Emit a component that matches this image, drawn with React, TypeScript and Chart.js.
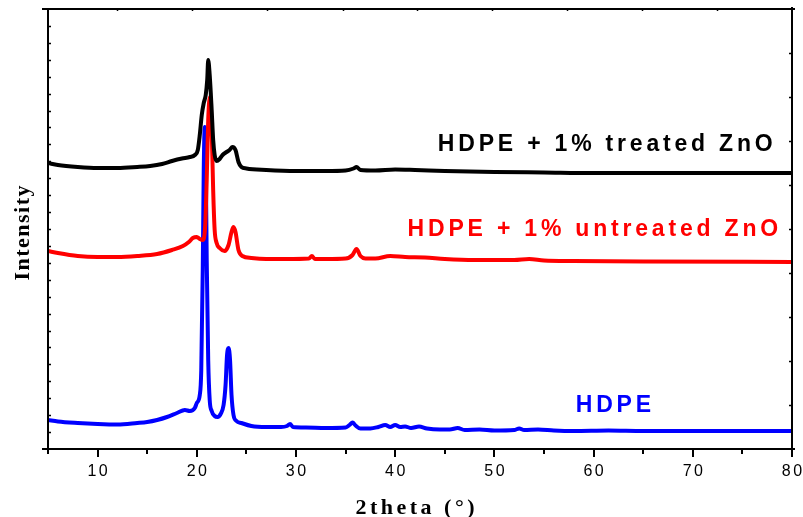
import React, { useEffect, useRef } from 'react';
import { Chart, registerables } from 'chart.js';

Chart.register(...registerables);

// ---- Data (2theta in degrees, intensity in arbitrary offset units) ----
const treatedTheta = [5, 6, 8, 10, 12, 14, 15.3, 16.5, 17.5, 18.5, 19.3, 19.8, 20.1, 20.3, 20.5, 20.7, 20.9, 21.05, 21.15, 21.3, 21.5, 21.65, 21.8, 22.0, 22.3, 22.6, 23.0, 23.3, 23.6, 23.9, 24.2, 24.5, 25, 27, 30, 33, 35, 35.8, 36.1, 36.5, 38, 40, 42, 45, 50, 55, 60, 70, 80];
const treatedIntensity = [286, 284, 282, 281, 281, 282, 283, 285, 288, 290.5, 292, 294, 299, 314, 334, 346, 354, 369, 389, 374, 339, 309, 294, 288, 290, 294, 297, 299, 302, 299, 287, 282, 280.5, 279, 278, 278, 278.5, 280.5, 282, 279, 278.5, 279.5, 279, 278, 277, 276.5, 276, 276, 276];

const untreatedTheta = [5, 6, 8, 10, 12, 14, 16, 17.5, 18.6, 19.2, 19.6, 20.0, 20.3, 20.6, 20.85, 21.0, 21.15, 21.33, 21.5, 21.65, 21.8, 22.0, 22.3, 22.8, 23.2, 23.5, 23.7, 23.9, 24.2, 24.6, 25.5, 27, 29, 31.3, 31.6, 31.9, 33, 35, 35.7, 36.1, 36.5, 37, 38, 39.5, 41, 43, 45, 48, 52, 53.5, 55, 58, 65, 80];
const untreatedIntensity = [198, 196, 193, 192, 192, 193, 195, 199, 203, 207, 211, 212, 210, 209, 224, 269, 329, 352, 319, 259, 219, 206, 201, 198, 204, 217, 222, 217, 199, 193, 191, 190, 190, 190.5, 193, 190, 190, 190.5, 194, 200, 193, 190.5, 190.5, 193, 192, 191.5, 190, 189, 189, 190, 188.5, 188, 187.5, 187];

const hdpeTheta = [5, 6, 8, 10, 12, 14, 15, 16, 17, 18, 18.8, 19.3, 19.8, 20.0, 20.3, 20.45, 20.6, 20.7, 20.8, 20.9, 21.0, 21.15, 21.3, 21.5, 21.8, 22.1, 22.4, 22.7, 22.9, 23.05, 23.2, 23.35, 23.5, 23.7, 24.0, 24.5, 25.5, 27, 28.5, 29.1, 29.4, 29.7, 31, 33, 35, 35.4, 35.7, 36.0, 36.5, 37.5, 38.3, 39.0, 39.5, 40.0, 40.5, 41.0, 41.6, 42.4, 43.2, 44.5, 45.5, 46.3, 47, 48.5, 50, 52, 52.5, 53, 54.4, 56, 58, 61.5, 65, 70, 75, 80];
const hdpeIntensity = [29, 27.5, 26, 25, 24.5, 26, 27, 29, 32, 36, 39, 38, 41, 46, 54, 79, 179, 279, 322, 289, 189, 89, 49, 38, 33, 32, 35, 44, 64, 94, 101, 89, 54, 34, 28, 26, 23, 22, 22, 23, 25, 22, 21.5, 21, 21.5, 24, 26.5, 23.5, 20.5, 20.5, 22, 24, 22, 24, 22, 22.5, 21, 22.5, 20.5, 19.5, 19.5, 21, 19, 19.5, 18.5, 19, 20.5, 19, 19.5, 18.5, 18, 18.5, 18, 18, 18, 18];

const seriesNames = ['HDPE + 1% treated ZnO', 'HDPE + 1% untreated ZnO', 'HDPE'];
const seriesColors = ['#000000', '#ff0000', '#0000ff'];

// axis
const X_MIN = 5;
const X_MAX = 80;
const Y_MIN = 0;
const Y_MAX = 440;
const xMajorTicks = [10, 20, 30, 40, 50, 60, 70, 80];
const xMinorTicks = [5, 15, 25, 35, 45, 55, 65, 75];
const topTicks = [12.0, 19.56, 27.1, 34.7, 42.2, 49.8, 57.3, 64.9, 72.4];
const LEFT_TICK_COUNT = 26;
const RIGHT_TICK_COUNT = 10;

// label anchors in data coordinates [2theta, intensity]
const labelAnchors = [
  [44.3, 298.3],
  [41.25, 213],
  [58.2, 37],
];

const toPoints = (xs: number[], ys: number[]) => xs.map((x, i) => ({ x, y: ys[i] }));

const decorPlugin = {
  id: 'decor',
  afterDraw(chart: any) {
    const ctx = chart.ctx as CanvasRenderingContext2D;
    const { left, right, top, bottom } = chart.chartArea;
    const xs = chart.scales.x;
    const ys = chart.scales.y;
    ctx.save();
    ctx.strokeStyle = '#000';
    ctx.lineWidth = 2;
    ctx.lineCap = 'butt';
    // frame
    ctx.beginPath();
    ctx.moveTo(left - 6, top);
    ctx.lineTo(right + 3, top);
    ctx.moveTo(left - 6, bottom);
    ctx.lineTo(right + 3, bottom);
    ctx.moveTo(left, top - 1);
    ctx.lineTo(left, bottom + 1);
    ctx.moveTo(right, top - 2);
    ctx.lineTo(right, bottom + 8);
    ctx.stroke();

    ctx.lineWidth = 1.5;
    ctx.beginPath();
    // left ticks (inward)
    for (let i = 1; i < LEFT_TICK_COUNT; i++) {
      const v = Y_MIN + ((Y_MAX - Y_MIN) * i) / LEFT_TICK_COUNT;
      const y = Math.round(ys.getPixelForValue(v)) + 0.5;
      ctx.moveTo(left, y);
      ctx.lineTo(left + 3, y);
    }
    // right ticks (inward)
    for (let i = 1; i < RIGHT_TICK_COUNT; i++) {
      const v = Y_MIN + ((Y_MAX - Y_MIN) * i) / RIGHT_TICK_COUNT;
      const y = Math.round(ys.getPixelForValue(v)) + 0.5;
      ctx.moveTo(right, y);
      ctx.lineTo(right - 3, y);
    }
    // top ticks
    for (const t of topTicks) {
      const x = Math.round(xs.getPixelForValue(t)) + 0.5;
      ctx.moveTo(x, top);
      ctx.lineTo(x, top + 2);
    }
    ctx.stroke();

    // bottom ticks (outward)
    ctx.lineWidth = 2;
    ctx.beginPath();
    for (const t of xMajorTicks) {
      const x = Math.round(xs.getPixelForValue(t));
      ctx.moveTo(x, bottom);
      ctx.lineTo(x, bottom + 8);
    }
    for (const t of xMinorTicks) {
      const x = Math.round(xs.getPixelForValue(t));
      ctx.moveTo(x, bottom);
      ctx.lineTo(x, bottom + 5);
    }
    ctx.stroke();

    // tick labels
    ctx.fillStyle = '#000';
    ctx.font = '16px "Liberation Sans", Arial, sans-serif';
    (ctx as any).letterSpacing = '2.5px';
    ctx.textAlign = 'left';
    ctx.textBaseline = 'alphabetic';
    for (const t of xMajorTicks) {
      const s = String(t);
      const w = ctx.measureText(s).width - 2.5;
      const x = xs.getPixelForValue(t);
      ctx.fillText(s, x - w / 2, bottom + 27);
    }

    // x axis title
    ctx.font = 'bold 22px "Liberation Serif", "Times New Roman", serif';
    (ctx as any).letterSpacing = '3.5px';
    {
      const s = '2theta (°)';
      const w = ctx.measureText(s).width - 3.5;
      const cx = 415;
      ctx.fillText(s, cx - w / 2, 514);
    }
    // y axis title
    ctx.save();
    ctx.font = 'bold 22px "Liberation Serif", "Times New Roman", serif';
    (ctx as any).letterSpacing = '1.5px';
    {
      const s = 'Intensity';
      const w = ctx.measureText(s).width - 1.5;
      ctx.translate(28.5, 233);
      ctx.rotate(-Math.PI / 2);
      ctx.fillText(s, -w / 2, 0);
    }
    ctx.restore();

    // series labels
    ctx.font = 'bold 23px "Liberation Sans", Arial, sans-serif';
    (ctx as any).letterSpacing = '3.8px';
    seriesNames.forEach((name, i) => {
      ctx.fillStyle = seriesColors[i];
      const [lx, ly] = labelAnchors[i];
      ctx.fillText(name, xs.getPixelForValue(lx), ys.getPixelForValue(ly));
    });
    ctx.restore();
  },
};

export default function App() {
  const canvasRef = useRef<HTMLCanvasElement | null>(null);

  useEffect(() => {
    const canvas = canvasRef.current;
    if (!canvas) return;
    const chart = new Chart(canvas, {
      type: 'line',
      data: {
        datasets: [
          { label: seriesNames[0], data: toPoints(treatedTheta, treatedIntensity) },
          { label: seriesNames[1], data: toPoints(untreatedTheta, untreatedIntensity) },
          { label: seriesNames[2], data: toPoints(hdpeTheta, hdpeIntensity) },
        ].map((d, i) => ({
          ...d,
          borderColor: seriesColors[i],
          backgroundColor: seriesColors[i],
          borderWidth: 4,
          pointRadius: 0,
          fill: false,
          cubicInterpolationMode: 'monotone' as const,
          parsing: false as const,
        })),
      },
      options: {
        responsive: false,
        animation: false,
        devicePixelRatio: 1,
        layout: { padding: { left: 48, right: 11, top: 9, bottom: 68 } },
        plugins: { legend: { display: false }, tooltip: { enabled: false }, title: { display: false } },
        scales: {
          x: { type: 'linear', min: X_MIN, max: X_MAX, display: false },
          y: { type: 'linear', min: Y_MIN, max: Y_MAX, display: false },
        },
      },
      plugins: [decorPlugin],
    });
    return () => chart.destroy();
  }, []);

  return (
    <div style={{ position: 'fixed', left: 0, top: 0, width: 803, height: 517, background: '#fff' }}>
      <canvas ref={canvasRef} width={803} height={517} style={{ display: 'block' }} />
    </div>
  );
}
